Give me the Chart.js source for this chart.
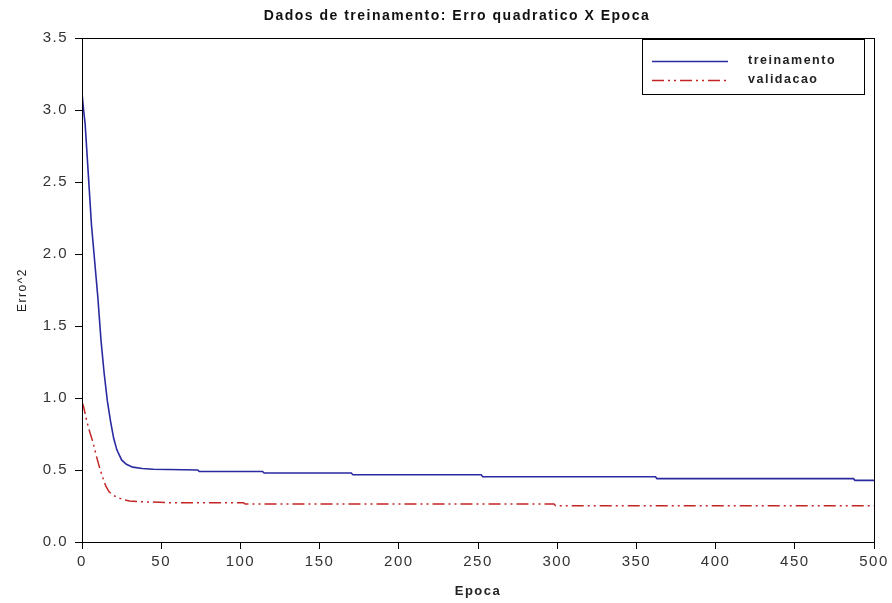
<!DOCTYPE html>
<html>
<head>
<meta charset="utf-8">
<script src="https://cdn.jsdelivr.net/npm/chart.js@4"></script>
<style>
  html, body { margin: 0; padding: 0; background: #fff; }
  #wrap { width: 892px; height: 603px; }
</style>
</head>
<body>
<div id="wrap"><canvas id="c" width="892" height="603"></canvas></div>
<script>
// ── DATA ────────────────────────────────────────────────────
const title = 'Dados de treinamento: Erro quadratico X Epoca';
const xTitle = 'Epoca';
const yTitle = 'Erro^2';

const trainEpochs = [0, 1, 2, 4, 6, 8, 10, 12, 14, 16, 18, 20, 22, 25, 28, 32, 38, 45, 73, 74, 114, 115, 170, 171, 252, 253, 362, 363, 487, 488, 500];
const trainErr    = [3.12, 3.0, 2.9, 2.55, 2.2, 1.95, 1.7, 1.4, 1.17, 0.98, 0.84, 0.72, 0.64, 0.57, 0.54, 0.52, 0.51, 0.505, 0.5, 0.49, 0.49, 0.479, 0.479, 0.467, 0.467, 0.453, 0.453, 0.44, 0.44, 0.428, 0.428];

const valEpochs = [0, 1, 3, 5, 7, 9, 11, 13, 15, 17, 19, 22, 26, 30, 37, 55, 102, 103, 298, 299, 500];
const valErr    = [0.97, 0.94, 0.84, 0.76, 0.69, 0.6, 0.52, 0.45, 0.39, 0.35, 0.33, 0.31, 0.295, 0.285, 0.28, 0.273, 0.273, 0.264, 0.264, 0.252, 0.252];

const xTicks = [0, 50, 100, 150, 200, 250, 300, 350, 400, 450, 500];
const yTicks = [0, 0.5, 1, 1.5, 2, 2.5, 3, 3.5];

const pts = (xs, ys) => xs.map((x, i) => ({ x, y: ys[i] }));

// ── PLUGINS ─────────────────────────────────────────────────
const FONT = '"Liberation Sans", Arial, sans-serif';

// the original output has wide letter spacing on all its text
const spacing = {
  id: 'spacing',
  beforeInit(chart) { chart.ctx.letterSpacing = '1.5px'; },
  beforeDraw(chart) { chart.ctx.letterSpacing = '1.5px'; }
};

// box around the plot + legend with border
const frame = {
  id: 'frame',
  afterDraw(chart) {
    const { ctx, chartArea: a } = chart;
    ctx.save();
    ctx.strokeStyle = '#000';
    ctx.lineWidth = 1;
    ctx.strokeRect(a.left + 0.5, a.top + 0.5, a.right - a.left, a.bottom - a.top);

    // legend
    const bx = 642, by = 39, bw = 222, bh = 55;
    ctx.fillStyle = '#fff';
    ctx.fillRect(bx, by, bw, bh);
    ctx.strokeRect(bx + 0.5, by + 0.5, bw, bh);
    ctx.font = 'bold 12.5px ' + FONT;
    ctx.textBaseline = 'middle';
    chart.data.datasets.forEach((ds, i) => {
      const y = by + 22 + i * 19;
      ctx.strokeStyle = ds.borderColor;
      ctx.lineWidth = ds.borderWidth;
      ctx.setLineDash(ds.borderDash || []);
      ctx.beginPath();
      ctx.moveTo(652, y + 0.5);
      ctx.lineTo(728, y + 0.5);
      ctx.stroke();
      ctx.setLineDash([]);
      ctx.fillStyle = '#222';
      ctx.fillText(ds.label, 748, y);
    });
    ctx.restore();
  }
};

// ── CHART ───────────────────────────────────────────────────
new Chart(document.getElementById('c'), {
  type: 'line',
  data: {
    datasets: [
      {
        label: 'treinamento',
        data: pts(trainEpochs, trainErr),
        borderColor: '#2a2aa0',
        borderWidth: 1.6,
        pointRadius: 0,
        tension: 0
      },
      {
        label: 'validacao',
        data: pts(valEpochs, valErr),
        borderColor: '#c42424',
        borderWidth: 1.5,
        borderDash: [12, 4, 2, 4, 2, 4],
        pointRadius: 0,
        tension: 0
      }
    ]
  },
  options: {
    responsive: false,
    animation: false,
    // left padding 40 puts the title centre at x≈457 like the original
    layout: { padding: { left: 40, right: 18, top: 0, bottom: 0 } },
    plugins: {
      legend: { display: false },
      tooltip: { enabled: false },
      title: {
        display: true,
        text: title,
        color: '#111',
        font: { family: FONT, size: 14, weight: 'bold' },
        padding: { top: 8, bottom: 13.2 }
      }
    },
    scales: {
      x: {
        type: 'linear',
        min: 0, max: 500,
        afterBuildTicks: s => { s.ticks = xTicks.map(v => ({ value: v })); },
        grid: { drawOnChartArea: false, tickLength: 7, color: '#000', tickColor: '#000' },
        border: { color: '#000', width: 1 },
        ticks: { color: '#333', font: { family: FONT, size: 15 }, padding: 4, maxRotation: 0 },
        title: { display: true, text: xTitle, color: '#222', font: { family: FONT, size: 13, weight: 'bold' }, padding: { top: 2, bottom: 4 } },
        afterFit: s => { s.height = 61; }
      },
      y: {
        type: 'linear',
        min: 0, max: 3.5,
        afterBuildTicks: s => { s.ticks = yTicks.map(v => ({ value: v })); },
        grid: { drawOnChartArea: false, tickLength: 7, color: '#000', tickColor: '#000' },
        border: { color: '#000', width: 1 },
        ticks: { color: '#333', font: { family: FONT, size: 15 }, padding: 7, callback: v => v.toFixed(1) },
        title: { display: true, text: yTitle, color: '#222', font: { family: FONT, size: 12 }, padding: { top: -25, bottom: 4 } },
        afterFit: s => { s.width = 42; }
      }
    }
  },
  plugins: [spacing, frame]
});
</script>
</body>
</html>
